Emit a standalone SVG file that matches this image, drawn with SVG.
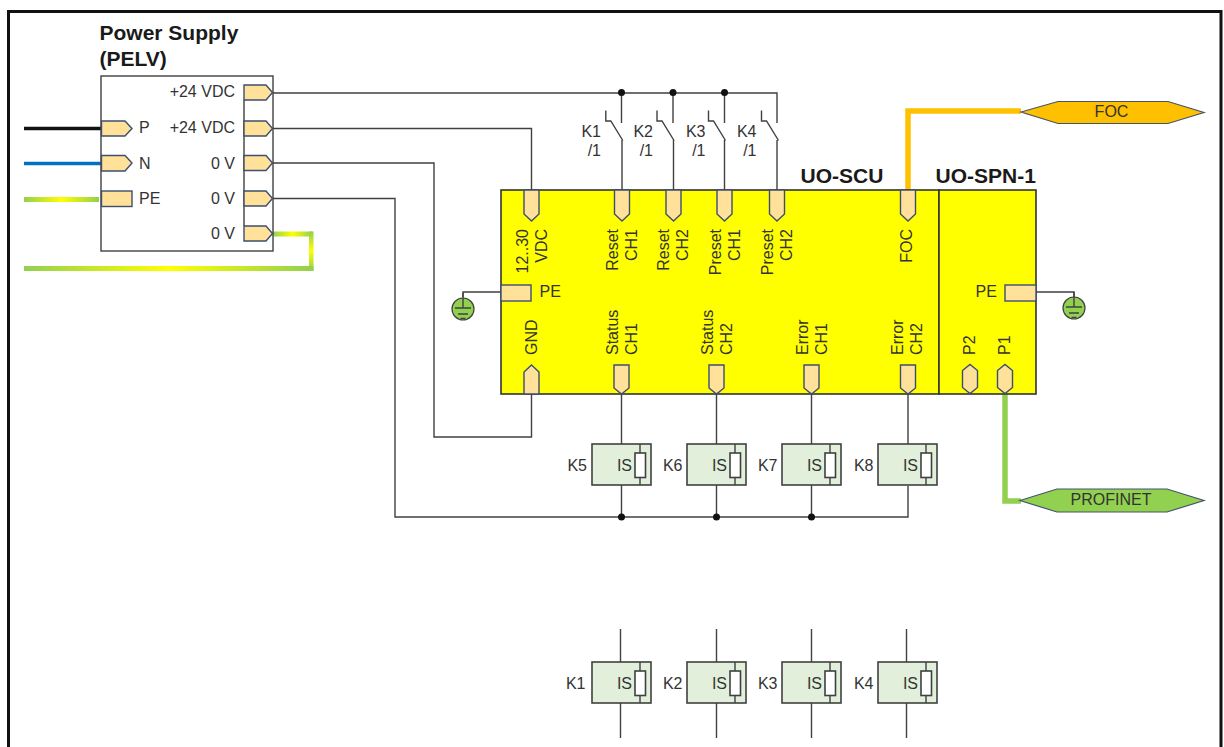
<svg xmlns="http://www.w3.org/2000/svg" width="1224" height="747" viewBox="0 0 1224 747">
<style>
text{font-family:"Liberation Sans",Arial,sans-serif;font-size:16px;fill:#333}
.b{font-weight:bold;font-size:21px;fill:#1a1a1a}
.e{text-anchor:end}
.m{text-anchor:middle}
.w{fill:none;stroke:#404040;stroke-width:1.4}
.port{fill:#FFE199;stroke:#3c4f6e;stroke-width:1.4}
.rel{fill:#E2EFDA;stroke:#404040;stroke-width:1.6}
.res{fill:#fff;stroke:#404040;stroke-width:1.6}
.ln{fill:none;stroke:#404040;stroke-width:1.4}
.dot{fill:#111}
.earth{fill:#92D050;stroke:#404040;stroke-width:1.2}
</style>
<defs>
<linearGradient id="gh" x1="0" y1="0" x2="1" y2="0"><stop offset="0" stop-color="#92D050"/><stop offset=".5" stop-color="#FFFF00"/><stop offset="1" stop-color="#92D050"/></linearGradient>
<linearGradient id="gv" x1="0" y1="0" x2="0" y2="1"><stop offset="0" stop-color="#92D050"/><stop offset=".5" stop-color="#FFFF00"/><stop offset="1" stop-color="#92D050"/></linearGradient>
<path id="pr" class="port" d="M0,0H22L28.500,7.500L22,15H0Z"/>
<path id="pd" class="port" d="M-7.500,0V24L0,31L7.500,24V0Z"/>
<path id="pu" class="port" d="M-7.500,29V7L0,0L7.500,7V29Z"/>
<path id="ps" class="port" d="M-7.500,0V23L0,29L7.500,23V0Z"/>
<path id="ph" class="port" d="M-7.500,6L0,0L7.500,6V23L0,29L-7.500,23Z"/>
<g id="relay">
<rect class="rel" x="0" y="0" width="59" height="41"/>
<path class="ln" d="M48,0V41"/>
<rect class="res" x="43" y="9" width="10.500" height="24.500"/>
</g>
<g id="sw">
<path class="ln" d="M0,-18V-7.500H5L17,12"/>
</g>
<g id="gnd">
<circle class="earth" cx="0" cy="0" r="11"/>
<path class="ln" d="M0,-16V-1M-8,-1H8M-5,5H5M-2.500,9.500H2.500"/>
</g>
</defs>

<rect id="frame" x="8.500" y="11.500" width="1212.500" height="745" fill="#fff" stroke="#111" stroke-width="3"/>

<g id="connectors">
<path class="w" d="M273,93H777V123"/>
<path class="w" d="M621.500,93V123M673,93V123M724.500,93V123"/>
<path class="w" d="M622,140V190M673.500,140V190M724.500,140V190M777,140V190"/>
<path class="w" d="M273,128.500H531.500V190"/>
<path class="w" d="M273,163H434V437H531.500V394"/>
<path class="w" d="M273,198.500H395V517H908V486"/>
<path class="w" d="M621.500,394V444M716.500,394V444M811.500,394V444M908,394V444"/>
<path class="w" d="M621.500,485V517M716.500,485V517M811.500,485V517"/>
<path class="w" d="M620.500,629V662M620.500,703V738M716.500,629V662M716.500,703V738M811.500,629V662M811.500,703V738M906.500,629V662M906.500,703V738"/>
<path class="w" d="M501,292H463V297M1036,292H1074V297"/>
<path d="M24,128.500H101" fill="none" stroke="#111" stroke-width="3.500"/>
<path d="M24,163.500H101" fill="none" stroke="#0070C0" stroke-width="3.500"/>
<rect x="24" y="197" width="75" height="5" fill="url(#gh)"/>
<rect x="273" y="231.500" width="39" height="5" fill="url(#gh)"/>
<rect x="309" y="231.500" width="4.500" height="39" fill="url(#gv)"/>
<rect x="24" y="266" width="289.500" height="5" fill="url(#gh)"/>
<path d="M908,190V111H1021" fill="none" stroke="#FFC000" stroke-width="5.500"/>
<path d="M1005,394V501H1021" fill="none" stroke="#92D050" stroke-width="5.500"/>
<circle class="dot" cx="621.500" cy="92.500" r="3.500"/>
<circle class="dot" cx="673" cy="92.500" r="3.500"/>
<circle class="dot" cx="724.500" cy="92.500" r="3.500"/>
<circle class="dot" cx="621.500" cy="517" r="3.500"/>
<circle class="dot" cx="716.500" cy="517" r="3.500"/>
<circle class="dot" cx="811.500" cy="517" r="3.500"/>
</g>

<g id="power-supply">
<text class="b" x="99.500" y="40">Power Supply</text>
<text class="b" x="99.500" y="65.500">(PELV)</text>
<rect x="101" y="76" width="172" height="175" fill="#fff" stroke="#404040" stroke-width="1.4"/>
<path class="ln" d="M244,100V226"/>
<use href="#pr" x="244" y="85"/><use href="#pr" x="244" y="121"/><use href="#pr" x="244" y="155.500"/><use href="#pr" x="244" y="191"/><use href="#pr" x="244" y="226"/>
<path class="port" d="M101.500,121H125L132,128.500L125,136H101.500Z"/>
<path class="port" d="M101.500,155.500H125L132,163L125,171H101.500Z"/>
<rect class="port" x="101.500" y="191" width="30.500" height="15.500"/>
<text x="139" y="133">P</text><text x="139" y="169">N</text><text x="139" y="204">PE</text>
<text class="e" x="235" y="97">+24 VDC</text>
<text class="e" x="235" y="133">+24 VDC</text>
<text class="e" x="235" y="169">0 V</text>
<text class="e" x="235" y="204">0 V</text>
<text class="e" x="235" y="239">0 V</text>
</g>

<g id="k1-contact"><use href="#sw" x="605.800" y="128.500"/><text class="e" x="601" y="137">K1</text><text class="e" x="601" y="156">/1</text></g>
<g id="k2-contact"><use href="#sw" x="657" y="128.500"/><text class="e" x="653" y="137">K2</text><text class="e" x="653" y="156">/1</text></g>
<g id="k3-contact"><use href="#sw" x="708.500" y="128.500"/><text class="e" x="705.500" y="137">K3</text><text class="e" x="705.500" y="156">/1</text></g>
<g id="k4-contact"><use href="#sw" x="761.500" y="128.500"/><text class="e" x="756.500" y="137">K4</text><text class="e" x="756.500" y="156">/1</text></g>

<g id="uo-scu">
<rect x="501" y="190" width="438" height="204" fill="#FFFF00" stroke="#333" stroke-width="1.6"/>
<text class="b" x="800.500" y="183">UO-SCU</text>
<use href="#pd" x="531.500" y="190"/><use href="#pd" x="622" y="190"/><use href="#pd" x="673.500" y="190"/><use href="#pd" x="724.500" y="190"/><use href="#pd" x="777" y="190"/><use href="#pd" x="908" y="190"/>
<use href="#pu" x="531.500" y="365"/><use href="#ps" x="621.500" y="365"/><use href="#ps" x="716.500" y="365"/><use href="#ps" x="811.500" y="365"/><use href="#ps" x="908" y="365"/>
<rect class="port" x="501" y="285" width="30" height="16"/>
<text x="539.500" y="297">PE</text>
<text class="e" transform="translate(528,229) rotate(-90)">12..30</text>
<text class="e" transform="translate(547,229) rotate(-90)">VDC</text>
<text class="e" transform="translate(618,229) rotate(-90)">Reset</text>
<text class="e" transform="translate(637,229) rotate(-90)">CH1</text>
<text class="e" transform="translate(669,229) rotate(-90)">Reset</text>
<text class="e" transform="translate(688,229) rotate(-90)">CH2</text>
<text class="e" transform="translate(720.500,229) rotate(-90)">Preset</text>
<text class="e" transform="translate(739.500,229) rotate(-90)">CH1</text>
<text class="e" transform="translate(772.500,229) rotate(-90)">Preset</text>
<text class="e" transform="translate(791.500,229) rotate(-90)">CH2</text>
<text class="e" transform="translate(912,229) rotate(-90)">FOC</text>
<text transform="translate(537,355) rotate(-90)">GND</text>
<text transform="translate(618,355) rotate(-90)">Status</text>
<text transform="translate(637,355) rotate(-90)">CH1</text>
<text transform="translate(712.500,355) rotate(-90)">Status</text>
<text transform="translate(731.500,355) rotate(-90)">CH2</text>
<text transform="translate(807.500,355) rotate(-90)">Error</text>
<text transform="translate(826.500,355) rotate(-90)">CH1</text>
<text transform="translate(903,355) rotate(-90)">Error</text>
<text transform="translate(922,355) rotate(-90)">CH2</text>
</g>

<g id="uo-spn-1">
<rect x="939" y="190" width="97" height="204" fill="#FFFF00" stroke="#333" stroke-width="1.6"/>
<text class="b" x="935.500" y="183">UO-SPN-1</text>
<use href="#ph" x="970" y="364.500"/><use href="#ph" x="1005" y="364.500"/>
<rect class="port" x="1005" y="285" width="31" height="16"/>
<text x="975.500" y="297">PE</text>
<text transform="translate(975,355) rotate(-90)">P2</text>
<text transform="translate(1010,355) rotate(-90)">P1</text>
</g>

<g id="earth-left"><use href="#gnd" x="463" y="309"/></g>
<g id="earth-right"><use href="#gnd" x="1074" y="308"/></g>

<g id="foc-tag"><path d="M1021,112L1058,101.500H1168L1204,112.500L1168,123.500H1058Z" fill="#FFC000" stroke="#44546A" stroke-width="1.2"/><text class="m" x="1111.500" y="117">FOC</text></g>
<g id="profinet-tag"><path d="M1020,500.500L1057,489H1167L1204,500.500L1167,512H1057Z" fill="#92D050" stroke="#44546A" stroke-width="1.2"/><text class="m" x="1111" y="505">PROFINET</text></g>

<g id="k5"><use href="#relay" x="592" y="444"/><text class="e" x="632" y="471">IS</text><text class="e" x="587" y="471">K5</text></g>
<g id="k6"><use href="#relay" x="687" y="444"/><text class="e" x="727" y="471">IS</text><text class="e" x="682.500" y="471">K6</text></g>
<g id="k7"><use href="#relay" x="782" y="444"/><text class="e" x="822" y="471">IS</text><text class="e" x="777.500" y="471">K7</text></g>
<g id="k8"><use href="#relay" x="878" y="444"/><text class="e" x="918" y="471">IS</text><text class="e" x="873.500" y="471">K8</text></g>
<g id="k1"><use href="#relay" x="592" y="662"/><text class="e" x="632" y="689">IS</text><text class="e" x="585.500" y="689">K1</text></g>
<g id="k2"><use href="#relay" x="687" y="662"/><text class="e" x="727" y="689">IS</text><text class="e" x="682.500" y="689">K2</text></g>
<g id="k3"><use href="#relay" x="782" y="662"/><text class="e" x="822" y="689">IS</text><text class="e" x="777.500" y="689">K3</text></g>
<g id="k4"><use href="#relay" x="878" y="662"/><text class="e" x="918" y="689">IS</text><text class="e" x="873.500" y="689">K4</text></g>
</svg>
